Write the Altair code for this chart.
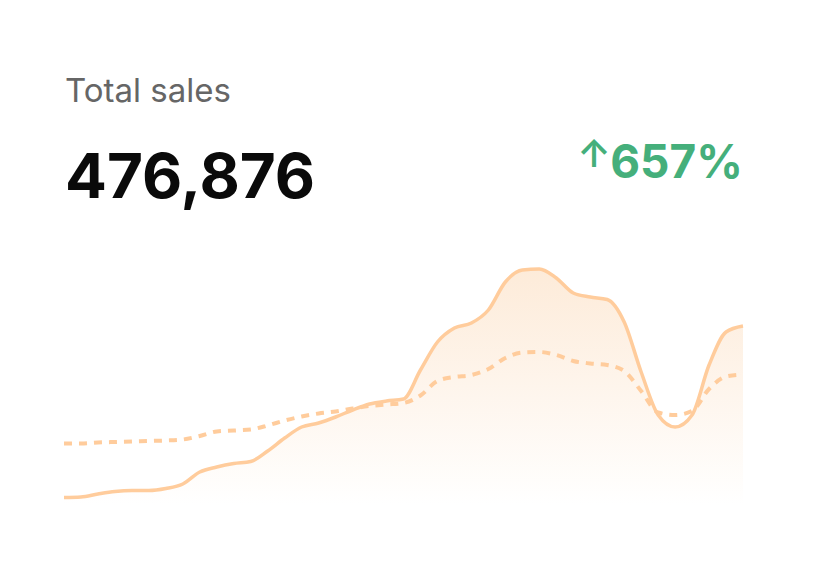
import altair as alt
import pandas as pd

# ---- data ----
idx = list(range(41))
current = [7.5, 8, 11, 13.5, 14.5, 14.5, 16.5, 21, 33, 38, 41.5, 43.5, 54, 67, 78, 82,
           88, 95, 101, 104, 106, 135, 163, 177, 182, 195, 223, 235, 236, 227, 212, 208,
           205.5, 183, 133, 90, 78, 90, 140, 173, 179]
previous = [61.5, 61.5, 62.5, 63, 63.5, 64, 64.5, 65.5, 69, 73.5, 74.5, 75.5, 79.5, 84.5,
            88.5, 91.5, 93.5, 96.5, 99, 100.5, 102, 109.5, 124, 128, 130, 136, 147, 152.5,
            153, 150, 144, 141.5, 140, 134, 114, 92.5, 90, 94, 116, 128.5, 130.5]

title_text = "Total sales"
total_text = "476,876"
change_text = "657%"
arrow_text = "↑"

df = pd.DataFrame({"i": idx, "cur": current, "prev": previous})

FONT = "Inter"
LINE_COLOR = "#FFCC9C"
GREEN = "#45AF7B"

xs = alt.X("i:Q", scale=alt.Scale(domain=[0, 40], range=[56, 735]), axis=None)
ys = alt.Scale(domain=[0, 250], range=[497, 247])

gradient = alt.Gradient(
    gradient="linear",
    stops=[
        alt.GradientStop(color="#FDEBD9", offset=0),
        alt.GradientStop(color="#FFFFFF", offset=1),
    ],
    x1=0, x2=0, y1=0, y2=1,
)

base = alt.Chart(df)

area = base.mark_area(interpolate="monotone", color=gradient).encode(
    x=xs, y=alt.Y("cur:Q", scale=ys, axis=None)
)

dashed = base.mark_line(
    interpolate="monotone", color=LINE_COLOR, strokeWidth=4, strokeDash=[8, 7]
).encode(x=xs, y=alt.Y("prev:Q", scale=ys, axis=None))

solid = base.mark_line(
    interpolate="monotone", color=LINE_COLOR, strokeWidth=3.5
).encode(x=xs, y=alt.Y("cur:Q", scale=ys, axis=None))

def label(txt, x, y, size, color, weight="normal", align="left", baseline="alphabetic"):
    return alt.Chart(pd.DataFrame({"t": [txt]})).mark_text(
        font=FONT, fontSize=size, color=color, fontWeight=weight,
        align=align, baseline=baseline,
    ).encode(text="t:N", x=alt.value(x), y=alt.value(y))

t1 = label(title_text, 57, 94, 33, "#666666")
t2 = label(total_text, 57, 190, 62, "#0a0a0a", weight="bold")
t3 = label(change_text, 735, 170, 46, GREEN, weight="bold", align="right")
t4 = label(arrow_text, 586, 148, 38, GREEN, weight=600, align="center", baseline="middle")

chart = alt.layer(area, dashed, solid, t1, t2, t3, t4).properties(
    width=808, height=546,
    autosize=alt.AutoSizeParams(type="none"),
    padding=0,
    background="white",
).configure_view(stroke=None)

chart.save("out.html", embed_options={"renderer": "svg", "actions": False})
